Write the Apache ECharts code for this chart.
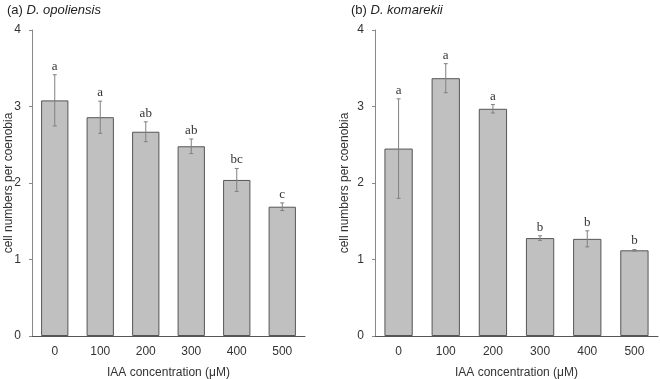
<!DOCTYPE html>
<html>
<head>
<meta charset="utf-8">
<script src="https://cdn.jsdelivr.net/npm/echarts@6/dist/echarts.min.js"></script>
<style>
html,body{margin:0;padding:0;background:#fff;}
#chart{width:660px;height:379px;}
</style>
</head>
<body>
<div id="chart"></div>
<script>
const categories = ['0', '100', '200', '300', '400', '500'];
const opoMeans = [3.08, 2.86, 2.67, 2.48, 2.04, 1.69];
const opoErr = [0.335, 0.21, 0.13, 0.095, 0.15, 0.05];
const opoLetters = ['a', 'a', 'ab', 'ab', 'bc', 'c'];
const komMeans = [2.45, 3.37, 2.97, 1.28, 1.27, 1.12];
const komErr = [0.65, 0.19, 0.055, 0.03, 0.105, 0.01];
const komLetters = ['a', 'a', 'a', 'b', 'b', 'b'];
const yTicks = [0, 1, 2, 3, 4];

const FONT = 'Liberation Sans, Arial, sans-serif';
const SERIF = 'Liberation Serif, Times New Roman, serif';

function errData(means, errs) {
  return means.map((m, i) => [i, m, errs[i]]);
}

function makeRender(letters) {
  return function (params, api) {
    const idx = api.value(0);
    const m = api.value(1);
    const e = api.value(2);
    const letter = letters[params.dataIndex];
    const top = api.coord([idx, m + e]);
    const bot = api.coord([idx, m - e]);
    const cap = 2;
    const st = { stroke: '#808080', lineWidth: 1 };
    return {
      type: 'group',
      children: [
        { type: 'line', shape: { x1: top[0], y1: top[1], x2: bot[0], y2: bot[1] }, style: st },
        { type: 'line', shape: { x1: top[0] - cap, y1: top[1], x2: top[0] + cap, y2: top[1] }, style: st },
        { type: 'line', shape: { x1: bot[0] - cap, y1: bot[1], x2: bot[0] + cap, y2: bot[1] }, style: st },
        { type: 'text', style: { text: letter, x: top[0], y: top[1] - 2, align: 'center', verticalAlign: 'bottom', font: '13px ' + SERIF, fill: '#333' } }
      ]
    };
  };
}

function xAxisCfg(gi) {
  return {
    type: 'category', gridIndex: gi, data: categories,
    name: 'IAA concentration (\u03bcM)', nameLocation: 'middle', nameGap: 31,
    nameMoveOverlap: false,
    nameTextStyle: { fontFamily: FONT, fontSize: 12, color: '#333' },
    axisLine: { lineStyle: { color: '#555', width: 1 } },
    axisTick: { show: false },
    axisLabel: { fontFamily: FONT, fontSize: 12, color: '#333', margin: 10 }
  };
}
function yAxisCfg(gi, gap) {
  return {
    type: 'value', gridIndex: gi, min: yTicks[0], max: yTicks[yTicks.length - 1], interval: 1,
    name: 'cell numbers per coenobia', nameLocation: 'middle', nameGap: gap,
    nameMoveOverlap: false,
    nameTextStyle: { fontFamily: FONT, fontSize: 12, color: '#333' },
    axisLine: { show: true, lineStyle: { color: '#888', width: 1 } },
    axisTick: { show: true, length: 3, lineStyle: { color: '#888' } },
    splitLine: { show: false },
    axisLabel: { fontFamily: FONT, fontSize: 12, color: '#333', margin: 11 }
  };
}
function barSeries(gi, data) {
  return {
    type: 'bar', xAxisIndex: gi, yAxisIndex: gi, data: data, barWidth: '60%',
    itemStyle: { color: '#c0c0c0', borderColor: '#555', borderWidth: 1 },
    silent: true
  };
}
function errSeries(gi, data, letters) {
  return {
    type: 'custom', xAxisIndex: gi, yAxisIndex: gi, data: data,
    renderItem: makeRender(letters), z: 5, silent: true,
    encode: { x: 0, y: 1 }
  };
}

const chart = echarts.init(document.getElementById('chart'), null, { renderer: 'canvas' });
chart.setOption({
  animation: false,
  backgroundColor: '#fff',
  title: [
    { text: '(a) {i|D. opoliensis}', left: 2, top: -1,
      textStyle: { fontFamily: FONT, fontSize: 13, fontWeight: 'normal', color: '#222',
        rich: { i: { fontFamily: FONT, fontSize: 13, fontStyle: 'italic', color: '#222' } } } },
    { text: '(b) {i|D. komarekii}', left: 346, top: -1,
      textStyle: { fontFamily: FONT, fontSize: 13, fontWeight: 'normal', color: '#222',
        rich: { i: { fontFamily: FONT, fontSize: 13, fontStyle: 'italic', color: '#222' } } } }
  ],
  grid: [
    { left: 32, top: 30, width: 273, height: 306, outerBoundsMode: 'none', containLabel: false },
    { left: 375, top: 30, width: 283, height: 306, outerBoundsMode: 'none', containLabel: false }
  ],
  xAxis: [xAxisCfg(0), xAxisCfg(1)],
  yAxis: [yAxisCfg(0, 17), yAxisCfg(1, 24)],
  series: [
    barSeries(0, opoMeans),
    errSeries(0, errData(opoMeans, opoErr), opoLetters),
    barSeries(1, komMeans),
    errSeries(1, errData(komMeans, komErr), komLetters)
  ]
});
</script>
</body>
</html>
